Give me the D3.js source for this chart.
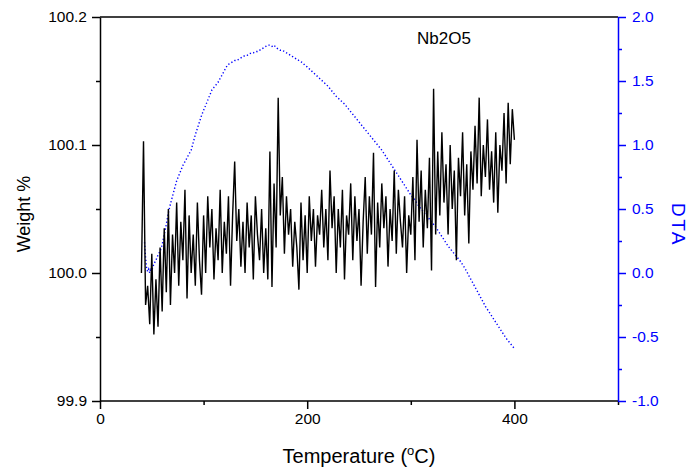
<!DOCTYPE html>
<html><head><meta charset="utf-8">
<script src="https://cdn.jsdelivr.net/npm/d3@7"></script>
<style>body{margin:0;background:#fff}svg{display:block;font-family:"Liberation Sans",Arial,sans-serif}</style>
</head><body><svg id="c" width="690" height="472"></svg>
<script>
const tgaTemp = [40,42,44,46,48,50,52,54,56,58,60,62,64,66,68,70,72,74,76,78,80,82,84,86,88,90,92,94,96,98,100,102,104,106,108,110,112,114,116,118,120,122,124,126,128,130,132,134,136,138,140,142,144,146,148,150,152,154,156,158,160,162,164,166,168,170,172,174,176,178,180,182,184,186,188,190,192,194,196,198,200,202,204,206,208,210,212,214,216,218,220,222,224,226,228,230,232,234,236,238,240,242,244,246,248,250,252,254,256,258,260,262,264,266,268,270,272,274,276,278,280,282,284,286,288,290,292,294,296,298,300,302,304,306,308,310,312,314,316,318,320,322,324,326,328,330,332,334,336,338,340,342,344,346,348,350,352,354,356,358,360,362,364,366,368,370,372,374,376,378,380,382,384,386,388,390,392,394,396,398,400];
const weight = [100.000,100.103,99.975,99.990,99.960,100.015,99.952,99.995,99.958,100.020,99.970,100.035,99.985,100.050,99.975,100.030,100.000,100.055,99.990,100.040,100.010,100.065,99.980,100.045,100.000,100.030,99.990,100.055,100.010,99.983,100.045,100.000,100.060,100.020,100.050,99.995,100.035,100.010,100.065,100.000,100.040,100.015,100.060,99.990,100.045,100.087,100.025,100.050,100.005,100.040,100.000,100.055,100.020,100.045,99.995,100.060,100.030,100.010,100.050,100.000,100.035,99.995,100.095,99.989,100.070,100.020,100.137,100.045,100.075,100.015,100.060,100.030,100.050,100.005,100.040,100.020,99.987,100.055,100.010,100.045,100.000,100.060,100.025,100.050,100.005,100.045,100.030,100.065,100.020,100.050,100.010,100.080,100.035,100.060,100.000,100.050,100.020,100.065,99.995,100.045,100.030,100.070,100.010,100.060,100.025,100.050,99.990,100.040,100.075,100.015,100.060,100.030,100.094,99.989,100.055,100.020,100.070,100.035,100.060,100.005,100.050,100.025,100.080,100.015,100.065,100.040,100.020,100.060,100.000,100.045,100.030,100.075,100.010,100.104,100.040,100.080,100.020,100.065,100.035,100.090,100.002,100.144,100.030,100.095,100.045,100.110,100.055,100.085,100.030,100.100,100.050,100.080,100.010,100.090,100.060,100.110,100.045,100.085,100.023,100.095,100.065,100.115,100.070,100.137,100.060,100.100,100.075,100.120,100.065,100.095,100.055,100.110,100.047,100.100,100.080,100.125,100.070,100.133,100.085,100.128,100.104];
const dtaTemp = [43,44,45,46,47,48,49,50,52,54,56,58,60,62,64,66,68,70,72,74,76,78,80,82,84,86,88,90,92,94,96,98,100,102,104,106,108,110,112,114,116,118,120,122,124,126,128,130,132,134,136,138,140,142,144,146,148,150,152,154,156,158,160,162,164,166,168,170,172,174,176,178,180,182,184,186,188,190,192,194,196,198,200,204,208,212,216,220,224,228,232,236,240,244,248,252,256,260,264,268,272,276,280,284,288,292,296,300,304,308,312,316,320,324,328,332,336,340,344,348,352,356,360,364,368,372,376,380,384,388,392,396,400];
const dta = [0.24,0.12,0.04,0.01,0.03,0.0,0.04,0.02,0.07,0.10,0.14,0.17,0.22,0.30,0.38,0.47,0.54,0.60,0.66,0.72,0.76,0.80,0.84,0.87,0.90,0.93,0.96,1.02,1.08,1.13,1.18,1.23,1.27,1.31,1.35,1.39,1.43,1.45,1.47,1.49,1.52,1.55,1.58,1.61,1.63,1.64,1.65,1.66,1.66,1.67,1.68,1.69,1.70,1.70,1.71,1.72,1.72,1.73,1.73,1.74,1.75,1.76,1.77,1.78,1.78,1.77,1.78,1.76,1.75,1.74,1.74,1.73,1.72,1.71,1.70,1.69,1.68,1.67,1.66,1.65,1.64,1.62,1.61,1.58,1.55,1.52,1.49,1.46,1.42,1.38,1.35,1.32,1.28,1.24,1.20,1.16,1.12,1.08,1.04,1.00,0.96,0.91,0.86,0.81,0.76,0.71,0.66,0.61,0.57,0.52,0.48,0.44,0.40,0.36,0.31,0.26,0.21,0.17,0.13,0.09,0.04,-0.02,-0.08,-0.14,-0.20,-0.26,-0.31,-0.36,-0.41,-0.46,-0.51,-0.55,-0.59];
const xTickLabels = [0,200,400];
const xMinorTicks = [100,300,500];
const yLeftTicks = [99.9,100.0,100.1,100.2];
const yLeftMinor = [99.95,100.05,100.15];
const yRightTicks = [-1.0,-0.5,0.0,0.5,1.0,1.5,2.0];
const yRightMinor = [-0.75,-0.25,0.25,0.75,1.25,1.75];

const svg = d3.select("#c");
const L=100,R=618,T=17,B=401;
const x = d3.scaleLinear().domain([0,500]).range([L,R]);
const yW = d3.scaleLinear().domain([99.9,100.2]).range([B,T]);
const yD = d3.scaleLinear().domain([-1,2]).range([B,T]);
const blue="#0000ff";
const fs=15.5;

const gData = svg.append("g");
gData.append("path")
  .datum(dtaTemp.map((t,i)=>[t,dta[i]]))
  .attr("fill","none").attr("stroke",blue).attr("stroke-width",1.4)
  .attr("stroke-dasharray","1.3,2.2")
  .attr("d", d3.line().x(d=>x(d[0])).y(d=>yD(d[1])));
gData.append("path")
  .datum(tgaTemp.map((t,i)=>[t,weight[i]]))
  .attr("fill","none").attr("stroke","#000").attr("stroke-width",1.4)
  .attr("d", d3.line().x(d=>x(d[0])).y(d=>yW(d[1])));

svg.append("line").attr("x1",L).attr("x2",R).attr("y1",T).attr("y2",T).attr("stroke","#000").attr("stroke-width",1.5);

function styleAxis(g,color){
  g.selectAll("path.domain").attr("stroke",color).attr("stroke-width",1.5);
  g.selectAll(".tick line").attr("stroke",color).attr("stroke-width",1.5);
  g.selectAll("text").attr("fill",color).attr("font-size",fs).attr("font-family","'Liberation Sans',Arial,sans-serif");
}
const gx = svg.append("g").attr("transform",`translate(0,${B})`)
  .call(d3.axisBottom(x).tickValues(xTickLabels).tickSize(8).tickSizeOuter(0).tickPadding(4).tickFormat(d3.format("d")));
styleAxis(gx,"#000");
gx.selectAll("path.domain").attr("d",`M${L},0H${R}`);
svg.append("g").attr("transform",`translate(0,${B})`)
  .call(d3.axisBottom(x).tickValues(xMinorTicks).tickSize(4).tickFormat(""))
  .call(g=>{g.select(".domain").remove();g.selectAll("line").attr("stroke","#000").attr("stroke-width",1.5);});

const gl = svg.append("g").attr("transform",`translate(${L},0)`)
  .call(d3.axisLeft(yW).tickValues(yLeftTicks).tickSize(8).tickSizeOuter(0).tickPadding(5).tickFormat(d3.format(".1f")));
styleAxis(gl,"#000");
svg.append("g").attr("transform",`translate(${L},0)`)
  .call(d3.axisLeft(yW).tickValues(yLeftMinor).tickSize(4).tickFormat(""))
  .call(g=>{g.select(".domain").remove();g.selectAll("line").attr("stroke","#000").attr("stroke-width",1.5);});

const gr = svg.append("g").attr("transform",`translate(${R},0)`)
  .call(d3.axisRight(yD).tickValues(yRightTicks).tickSize(8).tickSizeOuter(0).tickPadding(6).tickFormat(d3.format(".1f")));
styleAxis(gr,blue);
gr.selectAll("text").text(d=>d3.format(".1f")(d).replace("−","-"));
svg.append("g").attr("transform",`translate(${R},0)`)
  .call(d3.axisRight(yD).tickValues(yRightMinor).tickSize(4).tickFormat(""))
  .call(g=>{g.select(".domain").remove();g.selectAll("line").attr("stroke",blue).attr("stroke-width",1.5);});

svg.append("text").attr("transform","translate(30,214) rotate(-90)").attr("text-anchor","middle")
  .attr("font-size",18).attr("fill","#000").text("Weight %");
svg.append("text").attr("transform","translate(672,225) rotate(90)").attr("text-anchor","middle")
  .attr("font-size",19).attr("letter-spacing",2.5).attr("fill",blue).text("DTA");
const xt = svg.append("text").attr("x",359).attr("y",463).attr("text-anchor","middle").attr("font-size",20).attr("fill","#000");
xt.append("tspan").text("Temperature (");
xt.append("tspan").attr("dy",-8).attr("font-size",13).text("o");
xt.append("tspan").attr("dy",8).text("C)");
svg.append("text").attr("x",444).attr("y",44).attr("text-anchor","middle").attr("font-size",17).attr("fill","#000").text("Nb2O5");
</script></body></html>
